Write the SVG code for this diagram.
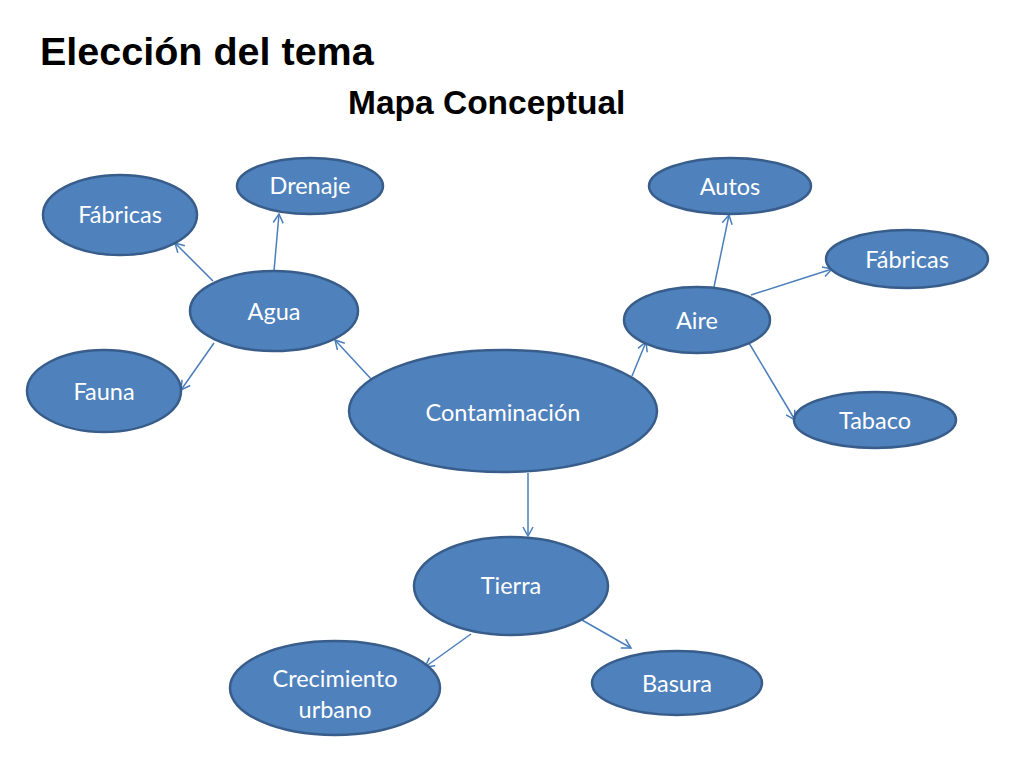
<svg xmlns="http://www.w3.org/2000/svg" width="1024" height="768" viewBox="0 0 1024 768">
<defs>
<marker id="arr" markerWidth="12" markerHeight="12" refX="10" refY="6" orient="auto" markerUnits="userSpaceOnUse">
<path d="M1,1 L10,6 L1,11" fill="none" stroke="#4A7EBB" stroke-width="1.5"/>
</marker>
</defs>
<style>
.n ellipse{fill:#4F81BD;stroke:#385D8A;stroke-width:2.5}
.n text{fill:#fff;font-family:Lato,"Open Sans","Noto Sans",sans-serif;font-size:23.5px;text-anchor:middle}
.c line{stroke:#4A7EBB;stroke-width:1.5;marker-end:url(#arr)}
.t{font-family:"Liberation Sans",Arial,sans-serif;font-weight:bold;fill:#000}
</style>
<rect width="1024" height="768" fill="#fff"/>
<text class="t" x="40" y="65" font-size="39.5">Elección del tema</text>
<text class="t" x="348" y="114" font-size="33.5">Mapa Conceptual</text>
<g class="c" id="connectors">
<line x1="213" y1="281" x2="175" y2="243"/>
<line x1="274" y1="271" x2="279" y2="214"/>
<line x1="214" y1="343" x2="181" y2="390"/>
<line x1="372" y1="380" x2="335" y2="340"/>
<line x1="632" y1="376" x2="646" y2="342"/>
<line x1="714" y1="287" x2="729" y2="215"/>
<line x1="751" y1="295" x2="832" y2="269"/>
<line x1="749" y1="343" x2="795" y2="420"/>
<line x1="528" y1="473" x2="528" y2="536"/>
<line x1="471" y1="634" x2="425" y2="667"/>
<line x1="582" y1="620" x2="631" y2="648"/>
</g>
<g class="n" id="fabricas1"><ellipse cx="120" cy="215" rx="77" ry="40"/><text x="120" y="223">Fábricas</text></g>
<g class="n" id="drenaje"><ellipse cx="310" cy="186" rx="73" ry="28"/><text x="310" y="194">Drenaje</text></g>
<g class="n" id="agua"><ellipse cx="274" cy="311" rx="84" ry="40"/><text x="274" y="320">Agua</text></g>
<g class="n" id="fauna"><ellipse cx="104" cy="391" rx="77" ry="41"/><text x="104" y="400">Fauna</text></g>
<g class="n" id="contaminacion"><ellipse cx="503" cy="411" rx="154" ry="61"/><text x="503" y="421">Contaminación</text></g>
<g class="n" id="autos"><ellipse cx="730" cy="186" rx="81" ry="28"/><text x="730" y="195">Autos</text></g>
<g class="n" id="fabricas2"><ellipse cx="907" cy="259" rx="81" ry="29"/><text x="907" y="268">Fábricas</text></g>
<g class="n" id="aire"><ellipse cx="697" cy="320" rx="73" ry="33"/><text x="697" y="329">Aire</text></g>
<g class="n" id="tabaco"><ellipse cx="875" cy="420" rx="81" ry="28"/><text x="875" y="429">Tabaco</text></g>
<g class="n" id="tierra"><ellipse cx="511" cy="586" rx="97" ry="49"/><text x="511" y="594">Tierra</text></g>
<g class="n" id="crecimiento"><ellipse cx="335" cy="688" rx="105" ry="47"/><text x="335" y="687">Crecimiento</text><text x="335" y="718">urbano</text></g>
<g class="n" id="basura"><ellipse cx="677" cy="683" rx="85" ry="32"/><text x="677" y="692">Basura</text></g>
</svg>
